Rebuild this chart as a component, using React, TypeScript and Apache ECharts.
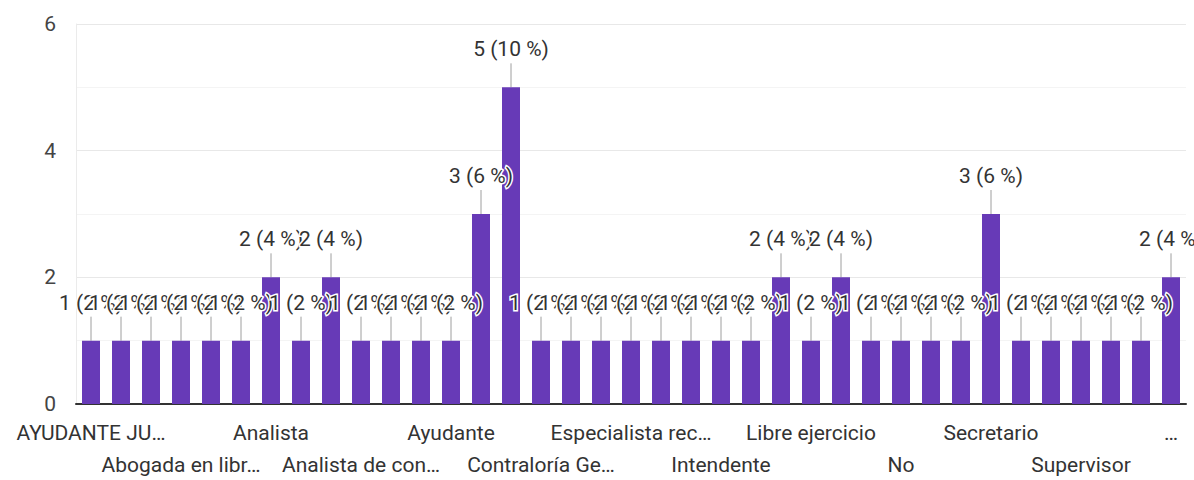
import React, { useEffect, useRef } from "react";
import * as echarts from "echarts";

// Answers per job title (sorted alphabetically, long titles shortened with an ellipsis)
const categories: string[] = [
  "AYUDANTE JU…",
  "Abogada",
  "Abogada de planta",
  "Abogada en libr…",
  "Abogado",
  "Abogado asesor",
  "Analista",
  "Analista contable",
  "Analista de bienes",
  "Analista de con…",
  "Analista jurídico",
  "Asistente",
  "Ayudante",
  "Ayudante de tribunal",
  "Contador",
  "Contraloría Ge…",
  "Coordinador",
  "Director",
  "Especialista rec…",
  "Estudiante",
  "Fiscal",
  "Intendente",
  "Jefe de área",
  "Juez",
  "Libre ejercicio",
  "Ministro",
  "Ministro de fe",
  "No",
  "Notario",
  "Oficial",
  "Secretario",
  "Secretario judicial",
  "Subdirector",
  "Supervisor",
  "Técnico",
  "Tesorero",
  "…",
];

const counts: number[] = [
  1, 1, 1, 1, 1, 1, 2, 1, 2, 1, 1, 1, 1, 3, 5, 1, 1, 1, 1, 1, 1, 1, 1, 2, 1, 2,
  1, 1, 1, 1, 3, 1, 1, 1, 1, 1, 2,
];

const yTicks: number[] = [0, 2, 4, 6];

const FONT = "Roboto, Arial, sans-serif";
const FONT_SIZE = 21;
const PURPLE = "#673ab7";

// Every third category gets a label; they alternate between two rows.
const labelStyle = {
  color: "#333",
  fontFamily: FONT,
  fontSize: FONT_SIZE,
  lineHeight: 32,
  verticalAlign: "top",
  hideOverlap: false,
  showMinLabel: true,
  showMaxLabel: true,
};

export default function App() {
  const ref = useRef<HTMLDivElement>(null);

  useEffect(() => {
    if (!ref.current) return;
    const chart = echarts.init(ref.current, undefined, { renderer: "svg" });
    const total = counts.reduce((a, b) => a + b, 0);

    chart.setOption({
      animation: false,
      grid: {
        left: 76,
        right: 8,
        top: 24,
        bottom: 76,
        containLabel: false,
        outerBoundsMode: "none",
      },
      xAxis: [
        {
          type: "category",
          data: categories,
          position: "bottom",
          axisLine: { show: true, lineStyle: { color: "#333", width: 2 } },
          axisTick: { show: false },
          axisLabel: {
            ...labelStyle,
            interval: (i: number) => i % 6 === 0,
            margin: 13,
          },
        },
        {
          type: "category",
          data: categories,
          position: "bottom",
          offset: 0,
          axisLine: { show: false },
          axisTick: { show: false },
          splitLine: { show: false },
          axisLabel: {
            ...labelStyle,
            interval: (i: number) => i % 6 === 3,
            margin: 45,
          },
        },
      ],
      yAxis: {
        type: "value",
        min: 0,
        max: 6,
        interval: 1,
        axisLine: { show: true, lineStyle: { color: "#ebebeb", width: 1 } },
        axisTick: { show: false },
        axisLabel: {
          margin: 20,
          color: "#444",
          fontFamily: FONT,
          fontSize: FONT_SIZE,
          formatter: (v: number) => (yTicks.includes(v) ? String(v) : ""),
        },
        splitLine: {
          show: true,
          lineStyle: { color: ["#e8e8e8", "#f4f4f4"], width: 1 },
        },
      },
      series: [
        {
          type: "custom",
          z: 1,
          silent: true,
          xAxisIndex: 0,
          data: counts.map((v, i) => [i, v]),
          encode: { x: 0, y: 1 },
          renderItem: (_params: any, api: any) => {
            const p = api.coord([api.value(0), api.value(1)]);
            return {
              type: "line",
              shape: { x1: p[0], y1: p[1], x2: p[0], y2: p[1] - 24 },
              style: { stroke: "#9e9e9e", lineWidth: 1 },
            };
          },
        },
        {
          type: "bar",
          xAxisIndex: 0,
          data: counts,
          barWidth: "60%",
          itemStyle: { color: PURPLE },
          label: {
            show: true,
            position: "top",
            distance: 27,
            fontFamily: FONT,
            fontSize: FONT_SIZE,
            lineHeight: 22,
            color: "#333",
            textBorderColor: "#fff",
            textBorderWidth: 3,
            formatter: (p: any) =>
              `${p.value} (${Math.round((p.value / total) * 100)} %)`,
          },
        },
      ],
    });

    return () => chart.dispose();
  }, []);

  return (
    <div
      ref={ref}
      style={{ position: "fixed", left: 0, top: 0, width: 1194, height: 480, background: "#fff" }}
    />
  );
}
